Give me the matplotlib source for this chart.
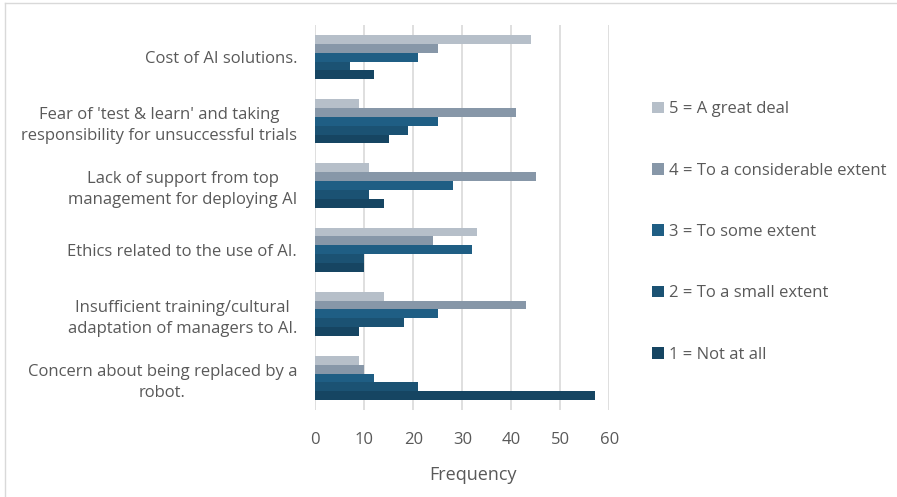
import numpy as np
import matplotlib.pyplot as plt
from matplotlib.lines import Line2D
from matplotlib.patches import Patch

plt.rcParams['font.family'] = ['Open Sans', 'DejaVu Sans']

categories = ['Cost of AI solutions.',
              "Fear of 'test & learn' and taking\nresponsibility for unsuccessful trials",
              'Lack of support from top\nmanagement for deploying AI',
              'Ethics related to the use of AI.',
              'Insufficient training/cultural\nadaptation of managers to AI.',
              'Concern about being replaced by a\nrobot.']
series_labels = ['5 = A great deal', '4 = To a considerable extent', '3 = To some extent',
                 '2 = To a small extent', '1 = Not at all']
great_deal = [44, 9, 11, 33, 14, 9]
considerable = [25, 41, 45, 24, 43, 10]
some = [21, 25, 28, 32, 25, 12]
small = [7, 19, 11, 10, 18, 21]
not_at_all = [12, 15, 14, 10, 9, 57]
colors = ['#b6bfc9', '#8797a8', '#1f5e84', '#1b5273', '#164562']
text_col = '#595959'

values = [great_deal, considerable, some, small, not_at_all]

fig = plt.figure(figsize=(8.97, 4.97), dpi=100)
ax = fig.add_axes([0.3515, 0.175, 0.3278, 0.7745])

y = np.arange(len(categories))
bh = 0.138
for k, vals in enumerate(values):
    ax.barh(y + (k - 2) * bh, vals, height=bh, color=colors[k], label=series_labels[k], zorder=3)

ax.set_ylim(len(categories) - 0.5, -0.5)
ax.set_xlim(0, 60)
ax.set_xticks(range(0, 61, 10))
ax.set_yticks(y)
ax.set_yticklabels(categories, multialignment='center', linespacing=1.4)
ax.grid(axis='x', color='#d9d9d9', linewidth=1.2, zorder=0)
for s in ax.spines.values():
    s.set_visible(False)
ax.tick_params(axis='both', length=0, labelsize=12, labelcolor=text_col)
ax.tick_params(axis='x', pad=16)
ax.tick_params(axis='y', pad=13)

fig.text(0.527, 0.044, 'Frequency', ha='center', va='center', fontsize=13, color=text_col)

handles = [Patch(facecolor=c, edgecolor='none') for c in colors]
fig.legend(handles, series_labels, loc='upper left', bbox_to_anchor=(0.71, 0.826),
           frameon=False, fontsize=12, labelcolor=text_col, handlelength=0.7,
           handleheight=0.7, handletextpad=0.3, labelspacing=2.72)

# thin chart frame along the top and left edges
fig.add_artist(Line2D([5 / 897, 1], [1 - 3 / 497, 1 - 3 / 497], transform=fig.transFigure,
                      color='#d9d9d9', linewidth=1))
fig.add_artist(Line2D([5 / 897, 5 / 897], [0, 1 - 3 / 497], transform=fig.transFigure,
                      color='#d9d9d9', linewidth=1))

fig.savefig('out.png', dpi=100)
